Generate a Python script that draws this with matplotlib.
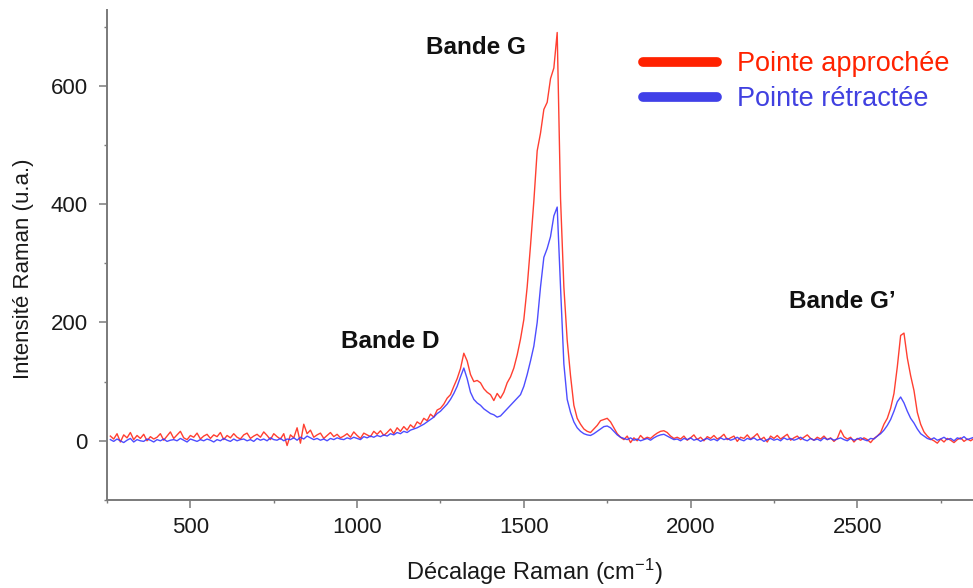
import numpy as np
import matplotlib
matplotlib.use("Agg")
import matplotlib.pyplot as plt
from matplotlib.lines import Line2D

plt.rcParams['font.family'] = ['Liberation Sans', 'DejaVu Sans']
plt.rcParams['mathtext.fontset'] = 'custom'
plt.rcParams['mathtext.rm'] = 'Liberation Sans'
plt.rcParams['mathtext.it'] = 'Liberation Sans:italic'

shift = np.arange(260, 2851, 10)

approchee = [
    8, 3, 12, -2, 10, 5, 14, 2, 9, 4,             # 260
    11, 0, 7, 3, 6, 12, 1, 8, 15, 4,              # 360
    10, 16, 5, 2, 9, 6, 13, 3, 8, 11,             # 460
    4, 10, 7, 14, 2, 9, 5, 12, 6, 3,              # 560
    10, 13, 4, 8, 11, 6, 15, 9, 2, 12,            # 660
    7, 3, 12, -8, 10, 5, 22, -4, 28, 12,          # 760
    18, 6, 10, 13, 4, 9, 14, 7, 11, 5,            # 860
    8, 12, 6, 15, 9, 4, 13, 10, 7, 16,            # 960
    11, 17, 9, 14, 20, 12, 22, 16, 24, 18,        # 1060
    27, 22, 32, 28, 38, 34, 45, 40, 52, 55,       # 1160
    62, 72, 78, 92, 105, 122, 148, 135, 112, 100, # 1260
    102, 98, 88, 82, 78, 68, 80, 72, 82, 98,      # 1360
    108, 123, 145, 172, 205, 260, 330, 405, 490, 520,  # 1460
    560, 572, 612, 630, 690, 410, 260, 170, 110, 60,   # 1560
    38, 28, 20, 16, 14, 20, 26, 34, 36, 38,       # 1660
    32, 22, 12, 6, 2, 8, -3, 5, 0, 9,             # 1760
    3, 6, 4, 9, 13, 16, 17, 14, 8, 4,             # 1860
    6, 3, 8, 1, 5, 10, 2, 6, 0, 7,                # 1960
    4, 9, 3, 6, 11, 2, 5, 8, -1, 6,               # 2060
    4, 10, 3, 7, 12, 2, 6, -2, 8, 4,              # 2160
    9, 3, 7, 11, 1, 5, 8, 2, 6, 10,               # 2260
    4, 1, 6, 3, 8, 2, 5, -1, 4, 18,               # 2360
    7, 3, 6, -2, 4, 1, 5, 2, -3, 4,               # 2460
    8, 14, 28, 38, 55, 80, 125, 178, 182, 140,    # 2560
    110, 85, 48, 28, 15, 8, 3, 0, -4, 3,          # 2660
    -2, 4, 1, -3, 2, 5, -1, 3, 0, 4,              # 2760
]

retractee = [
    2, -1, 3, 0, -3, 1, 4, -2, 2, 0,              # 260
    -1, 3, 1, -2, 2, 0, 3, -1, 1, 2,              # 360
    0, 4, 1, -2, 3, 1, -1, 2, 0, 3,               # 460
    1, -2, 2, 0, 4, 1, -1, 3, 0, 2,               # 560
    3, 0, 2, -1, 4, 1, 3, 0, 5, 2,                # 660
    1, 4, 0, 3, 2, 5, 1, 6, 3, 8,                 # 760
    5, 2, 4, 1, 3, 0, 4, 2, 5, 3,                 # 860
    2, 5, 3, 6, 4, 2, 7, 5, 8, 6,                 # 960
    9, 7, 10, 8, 12, 10, 14, 12, 16, 14,          # 1060
    18, 20, 22, 25, 28, 32, 36, 40, 46, 50,       # 1160
    56, 62, 70, 80, 92, 108, 123, 105, 82, 70,    # 1260
    64, 60, 54, 50, 46, 44, 40, 42, 48, 54,       # 1360
    60, 66, 72, 78, 92, 112, 135, 160, 200, 260,  # 1460
    310, 325, 345, 380, 395, 260, 130, 70, 48, 32,  # 1560
    22, 16, 12, 10, 9, 12, 16, 20, 24, 25,        # 1660
    22, 16, 10, 6, 4, 2, 5, 1, 3, 0,              # 1760
    2, 4, 1, 5, 8, 10, 11, 8, 5, 2,               # 1860
    3, 0, 4, 2, 5, 1, 3, -1, 2, 4,                # 1960
    1, 3, 0, 5, 2, 4, 1, 3, 6, 2,                 # 2060
    0, 4, 2, 5, 1, 3, -1, 2, 4, 1,                # 2160
    3, 0, 5, 2, 4, 1, 3, 6, 2, 0,                 # 2260
    4, 1, 3, 0, 5, 2, 4, 1, 3, 5,                 # 2360
    2, 0, 4, 1, 3, 5, 2, 0, 4, 3,                 # 2460
    8, 12, 18, 26, 36, 50, 66, 74, 64, 50,        # 2560
    38, 30, 20, 12, 8, 4, 2, 5, 1, 3,             # 2660
    6, 2, 4, 0, 5, 3, 7, 2, 4, 6,                 # 2760
]

band_labels = ["Bande D", "Bande G", "Bande G\u2019"]
band_x = [1100, 1355, 2455]
band_y = [168, 665, 236]

series_names = ["Pointe approchée", "Pointe rétractée"]
RED = '#ff2a1a'
BLUE = '#3a3aff'

fig = plt.figure(figsize=(9.73, 5.88), dpi=100)
ax = fig.add_axes([0.110, 0.1497, 0.890, 0.8333])

ax.plot(shift, approchee, color=RED, lw=1.0, alpha=0.9)
ax.plot(shift, retractee, color=BLUE, lw=1.0, alpha=0.9)

ax.set_xlim(250, 2847)
ax.set_ylim(-72, 728)

ax.set_xticks([500, 1000, 1500, 2000, 2500])
ax.set_xticks([250, 750, 1250, 1750, 2250, 2750], minor=True)
ax.set_yticks([0, 200, 400, 600])
ax.set_yticks([-100, 100, 300, 500, 700], minor=True)

for side in ['top', 'right']:
    ax.spines[side].set_visible(False)
for side in ['left', 'bottom']:
    ax.spines[side].set_color('#7a7a7a')
    ax.spines[side].set_linewidth(1.4)

ax.tick_params(which='major', direction='out', length=6, width=1.1,
               color='#7a7a7a', labelsize=16, labelcolor='#1a1a1a')
ax.tick_params(axis='y', which='major', pad=8)
ax.tick_params(axis='x', which='major', pad=6)
ax.tick_params(which='minor', direction='out', length=2.5, width=1.0, color='#7a7a7a')

ax.set_xlabel('Décalage Raman (cm$^{-1}$)', fontsize=17, color='#1a1a1a')
ax.xaxis.set_label_coords(0.494, -0.115)
ax.set_ylabel('Intensité Raman (u.a.)', fontsize=16, color='#1a1a1a')
ax.yaxis.set_label_coords(-0.084, 0.471)

for lab, bx, by in zip(band_labels, band_x, band_y):
    ax.text(bx, by, lab, fontsize=17.5, fontweight='bold', color='#111111',
            ha='center', va='center')

handles = [Line2D([], [], color='#ff2200', lw=7, solid_capstyle='round'),
           Line2D([], [], color='#4040e8', lw=7, solid_capstyle='round')]
leg = ax.legend(handles, series_names, loc='upper left',
                bbox_to_anchor=(0.6195, 0.916), frameon=False, fontsize=19.5,
                borderpad=0, borderaxespad=0,
                handlelength=2.7, handletextpad=0.75, labelspacing=0.33,
                labelcolor=['#ff2200', '#4040e0'])

fig.savefig('out.png', dpi=100)
